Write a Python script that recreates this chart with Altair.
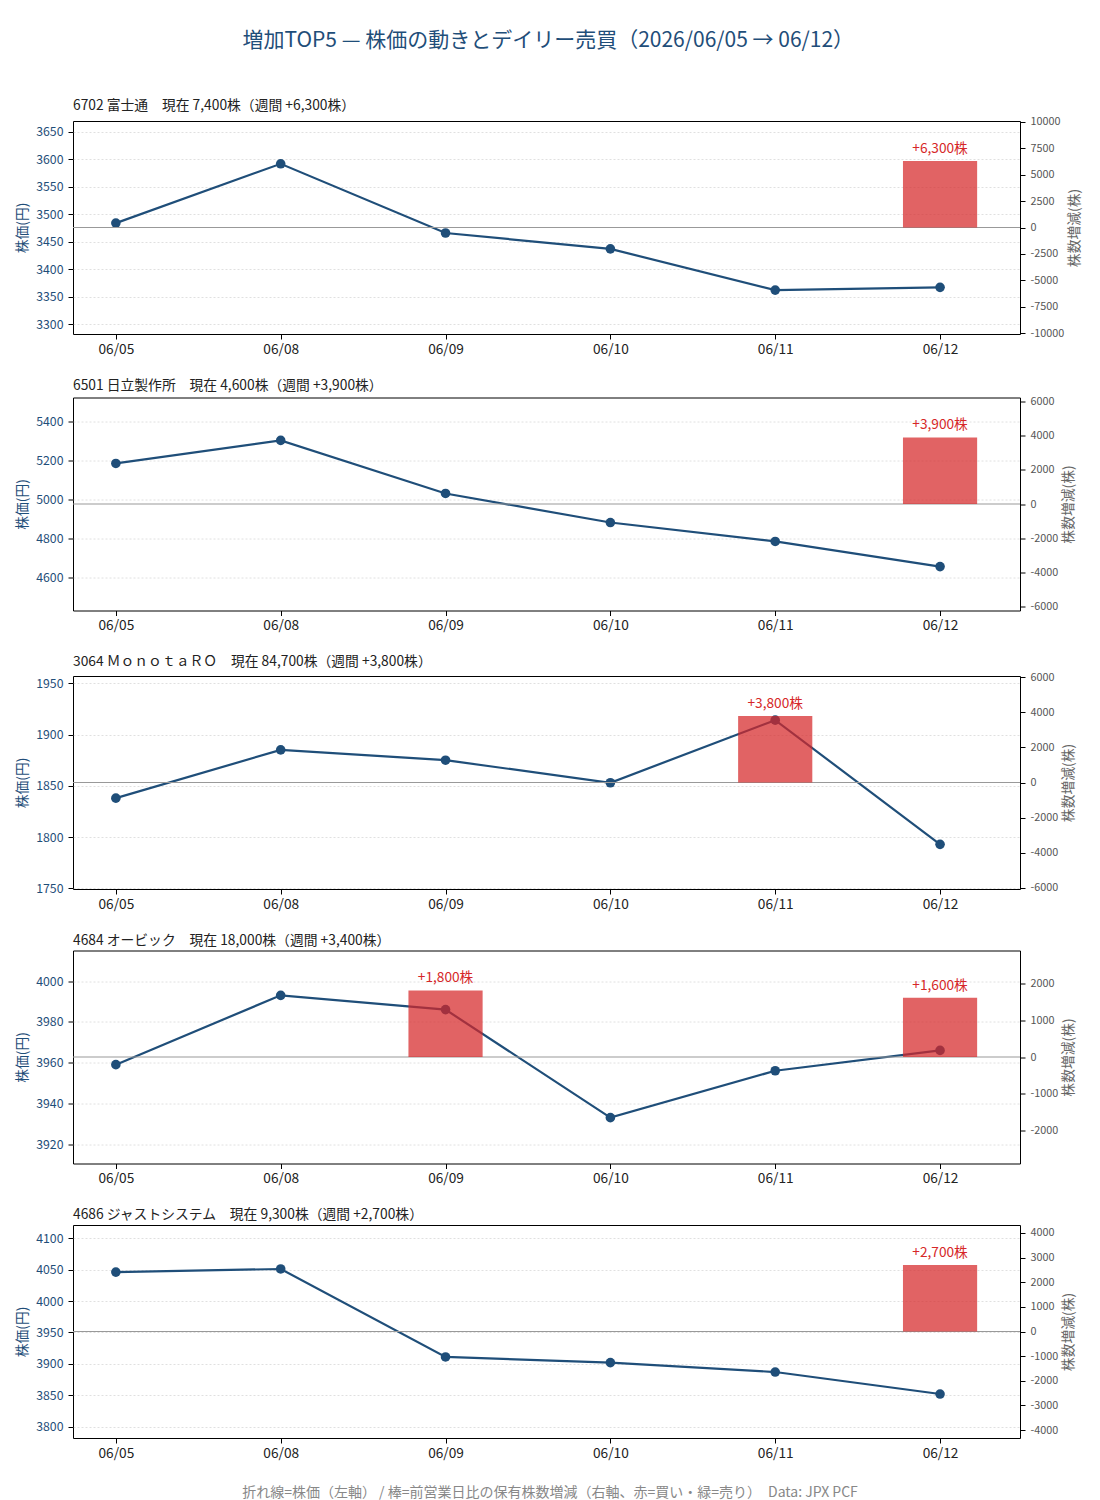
import json
import altair as alt
import pandas as pd

FONT = "Noto Sans CJK JP"
BLUE = "#1f4e79"
RED = "#d62728"

dates = ["06/05", "06/08", "06/09", "06/10", "06/11", "06/12"]
names = ["6702 富士通", "6501 日立製作所", "3064 ＭｏｎｏｔａＲＯ", "4684 オービック", "4686 ジャストシステム"]
holdings = ["7,400", "4,600", "84,700", "18,000", "9,300"]
weekly = ["+6,300", "+3,900", "+3,800", "+3,400", "+2,700"]

price_fujitsu = [3484, 3592, 3466, 3437, 3362, 3367]
price_hitachi = [5185, 5303, 5031, 4882, 4785, 4656]
price_monotaro = [1838, 1885, 1875, 1853, 1914, 1793]
price_obic = [3959, 3993, 3986, 3933, 3956, 3966]
price_just = [4046, 4051, 3911, 3902, 3887, 3852]
prices = [price_fujitsu, price_hitachi, price_monotaro, price_obic, price_just]

delta_fujitsu = [0, 0, 0, 0, 0, 6300]
delta_hitachi = [0, 0, 0, 0, 0, 3900]
delta_monotaro = [0, 0, 0, 0, 3800, 0]
delta_obic = [0, 0, 1800, 0, 0, 1600]
delta_just = [0, 0, 0, 0, 0, 2700]
deltas = [delta_fujitsu, delta_hitachi, delta_monotaro, delta_obic, delta_just]

left_domains = [[3282, 3670], [4431, 5523], [1749.5, 1957], [3910.5, 4015], [3782, 4121]]
left_ticks = [
    list(range(3300, 3651, 50)),
    list(range(4600, 5401, 200)),
    list(range(1750, 1951, 50)),
    list(range(3920, 4001, 20)),
    list(range(3800, 4101, 50)),
]
right_limits = [10080, 6240, 6080, 2880, 4320]
right_ticks = [
    list(range(-10000, 10001, 2500)),
    list(range(-6000, 6001, 2000)),
    list(range(-6000, 6001, 2000)),
    list(range(-2000, 2001, 1000)),
    list(range(-4000, 4001, 1000)),
]

title_text = "増加TOP5 — 株価の動きとデイリー売買（2026/06/05 → 06/12）"
footer_text = "折れ線=株価（左軸） / 棒=前営業日比の保有株数増減（右軸、赤=買い・緑=売り）　Data: JPX PCF"

W, H = 947, 213
HALF = 0.225

x_label_expr = json.dumps(dates) + "[datum.value]"


def x_enc(field):
    return alt.X(
        f"{field}:Q",
        scale=alt.Scale(domain=[-0.26, 5.485], nice=False, zero=False),
        axis=alt.Axis(
            values=list(range(6)), labelExpr=x_label_expr, title=None, grid=False,
            domain=False, tickSize=5, tickColor="#000", labelPadding=3,
            labelFontSize=13.7, labelColor="#222", labelFont=FONT,
        ),
    )


def panel(i):
    df = pd.DataFrame({"idx": list(range(6)), "date": dates, "price": prices[i]})
    rows = []
    for k, d in enumerate(deltas[i]):
        if d != 0:
            rows.append({"idx": k, "x0": k - HALF, "x1": k + HALF, "delta": d,
                         "zero": 0, "label": f"{d:+,}株"})
    bd = pd.DataFrame(rows)

    lscale = alt.Scale(domain=left_domains[i], nice=False, zero=False)
    laxis = alt.Axis(
        values=left_ticks[i], format="d", title="株価(円)", orient="left",
        grid=True, gridDash=[2, 2], gridColor="#d8d8d8", gridWidth=0.8,
        domain=False, tickSize=5, tickColor="#000", labelPadding=5,
        labelFontSize=12.3, labelColor=BLUE, titleColor=BLUE, titleFontSize=13.8,
        titleFontWeight="normal", titlePadding=7, minExtent=37, maxExtent=37,
        labelFont=FONT, titleFont=FONT,
    )
    lim = right_limits[i]
    rscale = alt.Scale(domain=[-lim, lim], nice=False, zero=False)
    raxis = alt.Axis(
        values=right_ticks[i], labelExpr="'' + datum.value", title="株数増減(株)",
        orient="right", grid=False, domain=False, tickSize=5, tickColor="#000",
        labelPadding=5, labelFontSize=10.8, labelColor="#555", titleColor="#666",
        titleFontSize=13.8, titleFontWeight="normal", titlePadding=4,
        titleAngle=270, titleBaseline="top",
        labelFont=FONT, titleFont=FONT,
    )

    line = alt.Chart(df).mark_line(color=BLUE, strokeWidth=2.2).encode(
        x=x_enc("idx"), y=alt.Y("price:Q", scale=lscale, axis=laxis)
    )
    pts = alt.Chart(df).mark_circle(color=BLUE, size=92, opacity=1).encode(
        x=x_enc("idx"), y=alt.Y("price:Q", scale=lscale, axis=laxis)
    )
    left = alt.layer(line, pts)

    rule = alt.Chart(pd.DataFrame({"z": [0]})).mark_rule(color="#999", strokeWidth=1).encode(
        y=alt.Y("z:Q", scale=rscale, axis=raxis)
    )
    bars = alt.Chart(bd).mark_rect(color=RED, opacity=0.72).encode(
        x=x_enc("x0"), x2="x1:Q",
        y=alt.Y("delta:Q", scale=rscale, axis=raxis), y2="zero:Q",
    )
    text = alt.Chart(bd).mark_text(
        color=RED, fontSize=13.7, baseline="alphabetic", dy=-8, font=FONT
    ).encode(
        x=x_enc("idx"), y=alt.Y("delta:Q", scale=rscale, axis=raxis), text="label:N"
    )
    right = alt.layer(rule, bars, text)

    ptitle = f"{names[i]}　現在 {holdings[i]}株（週間 {weekly[i]}株）"
    return alt.layer(left, right).resolve_scale(y="independent").properties(
        width=W, height=H,
        title=alt.TitleParams(ptitle, anchor="start", frame="group", fontSize=13.8,
                              fontWeight="normal", color="#222", offset=3, font=FONT),
    )


footer = alt.Chart(pd.DataFrame({"t": [footer_text]})).mark_text(
    fontSize=14, color="#888", font=FONT, baseline="middle"
).encode(text="t:N", x=alt.value(477), y=alt.value(10)).properties(
    width=W, height=14, view=alt.ViewBackground(stroke="transparent")
)

chart = alt.vconcat(*[panel(i) for i in range(5)], footer, spacing=20.5).properties(
    title=alt.TitleParams(title_text, anchor="middle", fontSize=21, fontWeight="normal",
                          color=BLUE, offset=48, font=FONT),
    padding={"left": 14, "top": 29, "right": 10, "bottom": 5},
).configure(
    font=FONT,
    view=alt.ViewConfig(stroke="#000", strokeWidth=1),
)

chart.save("out.html", embed_options={"renderer": "svg", "actions": False})
